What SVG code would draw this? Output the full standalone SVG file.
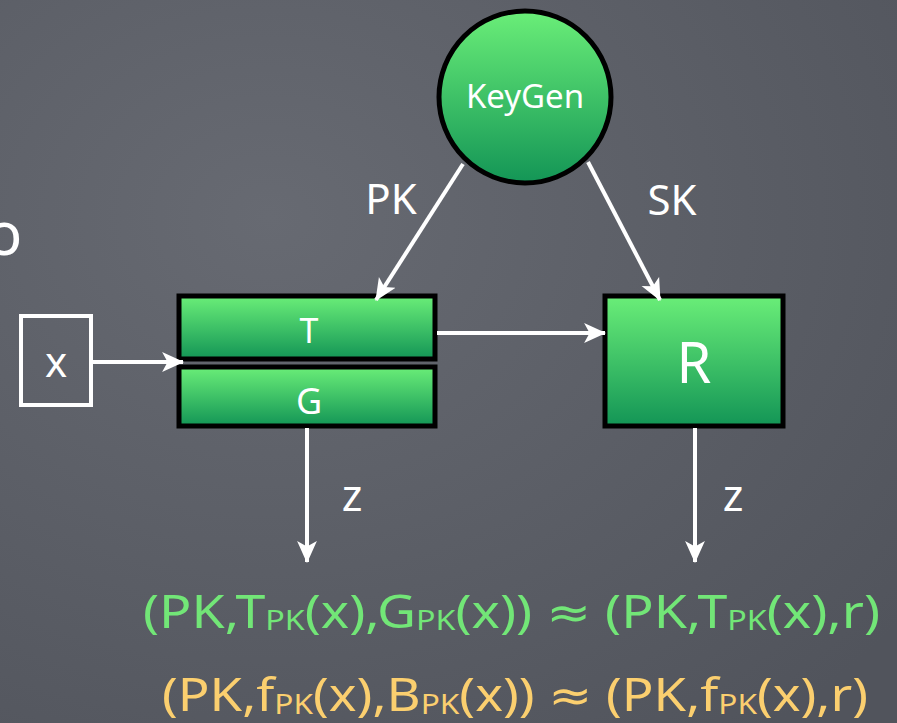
<svg xmlns="http://www.w3.org/2000/svg" width="897" height="723" viewBox="0 0 897 723">
  <defs>
    <radialGradient id="bg" cx="0.3" cy="0.3" r="0.9">
      <stop offset="0" stop-color="#676a72"/>
      <stop offset="1" stop-color="#51545c"/>
    </radialGradient>
    <linearGradient id="gr" x1="0" y1="0" x2="0" y2="1">
      <stop offset="0" stop-color="#6aee78"/>
      <stop offset="1" stop-color="#139556"/>
    </linearGradient>
    <marker id="ah" viewBox="0 0 20 20" refX="19" refY="10" markerWidth="22" markerHeight="22" markerUnits="userSpaceOnUse" orient="auto">
      <path d="M0,1 L20,10 L0,19 L5,10 z" fill="#ffffff"/>
    </marker>
  </defs>
  <style>
    .lbl { font-family: "Noto Sans", "DejaVu Sans", sans-serif; fill: #ffffff; text-anchor: middle; }
    .box { fill: url(#gr); stroke: #000000; stroke-width: 5; }
    .conn { stroke: #ffffff; stroke-width: 4; fill: none; marker-end: url(#ah); }
    .f { font-family: "Noto Sans", "DejaVu Sans", sans-serif; font-size: 45px; }
    .sub { font-size: 27px; }
  </style>
  <rect x="0" y="0" width="897" height="723" fill="url(#bg)"/>

  <text x="-14" y="255" class="lbl" style="font-size:60px;text-anchor:start">o</text>

  <g id="keygen">
    <circle cx="525" cy="97" r="86" fill="url(#gr)" stroke="#000" stroke-width="5"/>
    <text x="525" y="108" class="lbl" font-size="33">KeyGen</text>
  </g>
  <g id="x">
    <rect x="21" y="316" width="70" height="89" fill="none" stroke="#fff" stroke-width="4"/>
    <text x="56" y="377" class="lbl" font-size="42">x</text>
  </g>
  <g id="T">
    <rect x="179" y="296" width="256" height="63" class="box"/>
    <text x="309" y="343" class="lbl" font-size="34">T</text>
  </g>
  <g id="G">
    <rect x="179" y="367" width="256" height="59" class="box"/>
    <text x="309" y="414" class="lbl" font-size="36">G</text>
  </g>
  <g id="R">
    <rect x="605" y="296" width="178" height="130" class="box"/>
    <text x="694" y="383" class="lbl" font-size="56">R</text>
  </g>

  <g id="connectors">
    <line x1="93" y1="362" x2="183" y2="362" class="conn"/>
    <line x1="463" y1="164" x2="376" y2="300" class="conn"/>
    <line x1="588" y1="162" x2="660" y2="300" class="conn"/>
    <line x1="437" y1="333" x2="605" y2="333" class="conn"/>
    <line x1="307" y1="428" x2="307" y2="562" class="conn"/>
    <line x1="695" y1="428" x2="695" y2="562" class="conn"/>
    <text x="391" y="214" class="lbl" font-size="42">PK</text>
    <text x="672" y="215" class="lbl" font-size="42">SK</text>
    <text x="352" y="511" class="lbl" font-size="44">z</text>
    <text x="733" y="511" class="lbl" font-size="44">z</text>
  </g>

  <text x="143" y="628" class="f" fill="#72e677" textLength="737" lengthAdjust="spacingAndGlyphs">(PK,T<tspan class="sub" dy="2">PK</tspan><tspan dy="-2">(x),G</tspan><tspan class="sub" dy="2">PK</tspan><tspan dy="-2">(x)) ≈ (PK,T</tspan><tspan class="sub" dy="2">PK</tspan><tspan dy="-2">(x),r)</tspan></text>
  <text x="162" y="711" class="f" fill="#fbcf6f" textLength="706" lengthAdjust="spacingAndGlyphs">(PK,f<tspan class="sub" dy="3">PK</tspan><tspan dy="-3">(x),B</tspan><tspan class="sub" dy="3">PK</tspan><tspan dy="-3">(x)) ≈ (PK,f</tspan><tspan class="sub" dy="3">PK</tspan><tspan dy="-3">(x),r)</tspan></text>
</svg>
